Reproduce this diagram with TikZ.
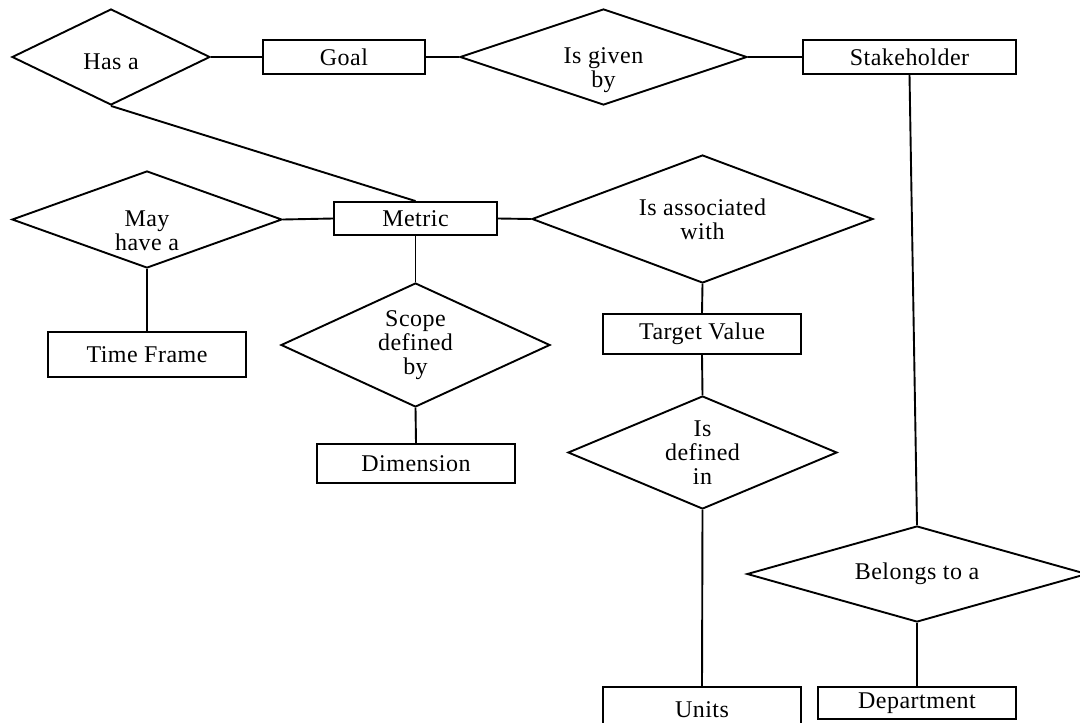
\documentclass[tikz,border=0pt]{standalone}
\usepackage{fontspec}
\setmainfont{Liberation Serif}[LetterSpace=2]
\usetikzlibrary{shapes.geometric}
\tikzset{
  ent/.style n args={2}{draw, rectangle, line width=0.95pt, inner sep=0pt,
    minimum width=#1*0.5pt, minimum height=#2*0.5pt,
    font=\fontsize{12}{12}\selectfont},
  rel/.style n args={2}{draw, diamond, line width=0.95pt, inner sep=0pt,
    shape aspect=2.5, minimum width=#1*0.5pt, minimum height=#2*0.5pt,
    align=center, font=\fontsize{12}{12}\selectfont},
  lbl/.style={inner sep=0pt, align=center, font=\fontsize{12}{12}\selectfont},
  link/.style={line width=0.95pt}
}
\begin{document}
\begin{tikzpicture}[x=0.5pt,y=-0.5pt]
\useasboundingbox (0,0) rectangle (1080,722);
\clip (0,0) rectangle (1080,722);
% relationships
\node[rel={198}{96}] (hasa) at (111,57) {};
\node[lbl] (hasat) at (111,62) {Has a};
\node[rel={287}{96}] (given) at (603.5,57) {};
\node[lbl] (givent) at (603.5,70) {Is given\\by};
\node[rel={270}{97}] (mayhave) at (147,219.5) {};
\node[lbl] (mayhavet) at (147,231) {May\\have a};
\node[rel={341}{128}] (assoc) at (702.5,219) {Is associated\\with};
\node[rel={269}{124}] (scope) at (415.5,345) {Scope\\defined\\by};
\node[rel={269}{113}] (defined) at (702.5,452.5) {Is\\defined\\in};
\node[rel={340}{96}] (belongs) at (917,574) {Belongs to a};
% entities
\node[ent={162}{34}] (goal) at (344,57) {Goal};
\node[ent={213}{34}] (stake) at (909.5,57) {Stakeholder};
\node[ent={163}{33}] (metric) at (415.5,218.5) {Metric};
\node[ent={198}{45}] (time) at (147,354.5) {Time Frame};
\node[ent={198}{40}] (target) at (702,334) {Target Value};
\node[ent={198}{39}] (dim) at (416,463.5) {Dimension};
\node[ent={198}{46}] (units) at (702,710) {Units};
\node[ent={198}{32}] (dept) at (917,703) {Department};
% connectors
\draw[link] (hasa.east) -- (goal.west);
\draw[link] (goal.east) -- (given.west);
\draw[link] (given.east) -- (stake.west);
\draw[link] (hasa.south) -- (metric.north);
\draw[link] (mayhave.east) -- (metric.west);
\draw[link] (metric.east) -- (assoc.west);
\draw[link] (mayhave.south) -- (time.north);
\draw[link] (metric.south) -- (scope.north);
\draw[link] (scope.south) -- (dim.north);
\draw[link] (assoc.south) -- (target.north);
\draw[link] (target.south) -- (defined.north);
\draw[link] (defined.south) -- (units.north);
\draw[link] (stake.south) -- (belongs.north);
\draw[link] (belongs.south) -- (dept.north);
\end{tikzpicture}
\end{document}
